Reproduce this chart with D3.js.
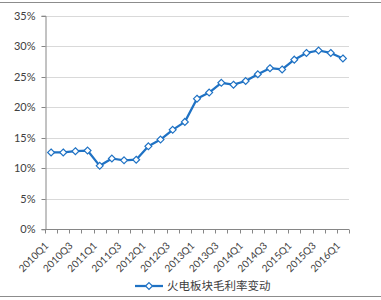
<!DOCTYPE html>
<html>
<head>
<meta charset="utf-8">
<script src="https://cdn.jsdelivr.net/npm/d3@7"></script>
<style>
  body { margin: 0; background: #fff; }
  svg text { font-family: Lato, "Liberation Sans", sans-serif; fill: #404040; }
</style>
</head>
<body>
<div id="chart"></div>
<script>
// quarters 2010Q1..2016Q1
const quarters = ['2010Q1','2010Q2','2010Q3','2010Q4','2011Q1','2011Q2','2011Q3','2011Q4',
  '2012Q1','2012Q2','2012Q3','2012Q4','2013Q1','2013Q2','2013Q3','2013Q4',
  '2014Q1','2014Q2','2014Q3','2014Q4','2015Q1','2015Q2','2015Q3','2015Q4','2016Q1'];
const margin = [12.6, 12.6, 12.8, 12.9, 10.4, 11.6, 11.3, 11.4,
  13.6, 14.7, 16.3, 17.6, 21.4, 22.4, 24.0, 23.7,
  24.3, 25.4, 26.4, 26.2, 27.8, 28.9, 29.3, 28.9, 28.0];
const yTicks = [0, 5, 10, 15, 20, 25, 30, 35];
const seriesName = '火电板块毛利率变动';

const width = 381, height = 300;
const plot = {left: 45, right: 349, top: 15.7, bottom: 229.3};

const svg = d3.select('#chart').append('svg')
  .attr('width', width)
  .attr('height', height);

// border lines top / bottom
svg.append('line').attr('x1', 0).attr('x2', width).attr('y1', 2.5).attr('y2', 2.5)
  .attr('stroke', '#8c8c8c');
svg.append('line').attr('x1', 0).attr('x2', width).attr('y1', 296.5).attr('y2', 296.5)
  .attr('stroke', '#8c8c8c');

const x = d3.scaleBand().domain(quarters).range([plot.left, plot.right]);
const y = d3.scaleLinear().domain([0, 35]).range([plot.bottom, plot.top]);

// gridlines
svg.append('g')
  .selectAll('line')
  .data(yTicks.slice(1))
  .enter().append('line')
  .attr('x1', plot.left).attr('x2', plot.right)
  .attr('y1', d => Math.round(y(d)) + 0.5).attr('y2', d => Math.round(y(d)) + 0.5)
  .attr('stroke', '#d9d9d9');

// y axis
const yAxis = d3.axisLeft(y).tickValues(yTicks).tickSize(4).tickPadding(6)
  .tickFormat(d => d + '%');
const yg = svg.append('g')
  .attr('transform', `translate(${plot.left + 0.5},0)`)
  .call(yAxis);
yg.selectAll('.tick').attr('transform', d => `translate(0,${Math.round(y(d)) + 0.5})`);
yg.selectAll('path, line').attr('stroke', '#868686');
yg.selectAll('text').style('font-size', '11px').attr('fill', '#404040');

// x axis: ticks at category boundaries
const axisY = Math.round(plot.bottom) + 0.5;
const xg = svg.append('g');
xg.append('line').attr('x1', plot.left).attr('x2', plot.right)
  .attr('y1', axisY).attr('y2', axisY).attr('stroke', '#868686');
const bounds = quarters.map(q => x(q)).concat([plot.right]);
xg.selectAll('line.tk')
  .data(bounds)
  .enter().append('line')
  .attr('class', 'tk')
  .attr('x1', d => Math.round(d) + 0.5).attr('x2', d => Math.round(d) + 0.5)
  .attr('y1', axisY).attr('y2', axisY + 4)
  .attr('stroke', '#868686');
xg.selectAll('text')
  .data(quarters.filter((q, i) => i % 2 === 0))
  .enter().append('text')
  .attr('text-anchor', 'end')
  .attr('transform', d => `translate(${x(d) + x.bandwidth() / 2 - 2},${axisY + 17}) rotate(-45)`)
  .style('font-size', '10px')
  .text(d => d);

// line
const cx = (d, i) => x(quarters[i]) + x.bandwidth() / 2;
const line = d3.line()
  .x(cx)
  .y(d => y(d));
svg.append('path')
  .datum(margin)
  .attr('fill', 'none')
  .attr('stroke', '#1f72c4')
  .attr('stroke-width', 2.25)
  .attr('stroke-linejoin', 'round')
  .attr('d', line);

const diamond = d3.symbol().type(d3.symbolDiamond2).size(30);
svg.append('g')
  .selectAll('path')
  .data(margin)
  .enter().append('path')
  .attr('d', diamond)
  .attr('transform', (d, i) => `translate(${cx(d, i)},${y(d)})`)
  .attr('fill', '#fff')
  .attr('stroke', '#1f72c4')
  .attr('stroke-width', 1.2);

// legend
const lg = svg.append('g').attr('transform', 'translate(135,286)');
lg.append('line').attr('x1', 0).attr('x2', 28).attr('y1', 0).attr('y2', 0)
  .attr('stroke', '#1f72c4').attr('stroke-width', 2.25);
lg.append('path').attr('d', diamond).attr('transform', 'translate(14,0)')
  .attr('fill', '#fff').attr('stroke', '#1f72c4').attr('stroke-width', 1.2);
lg.append('text')
  .attr('x', 32).attr('y', 0).attr('dy', '0.36em')
  .style('font-family', '"Noto Sans CJK SC", sans-serif')
  .style('font-size', '11.5px')
  .attr('fill', '#404040')
  .text(seriesName);
</script>
</body>
</html>
